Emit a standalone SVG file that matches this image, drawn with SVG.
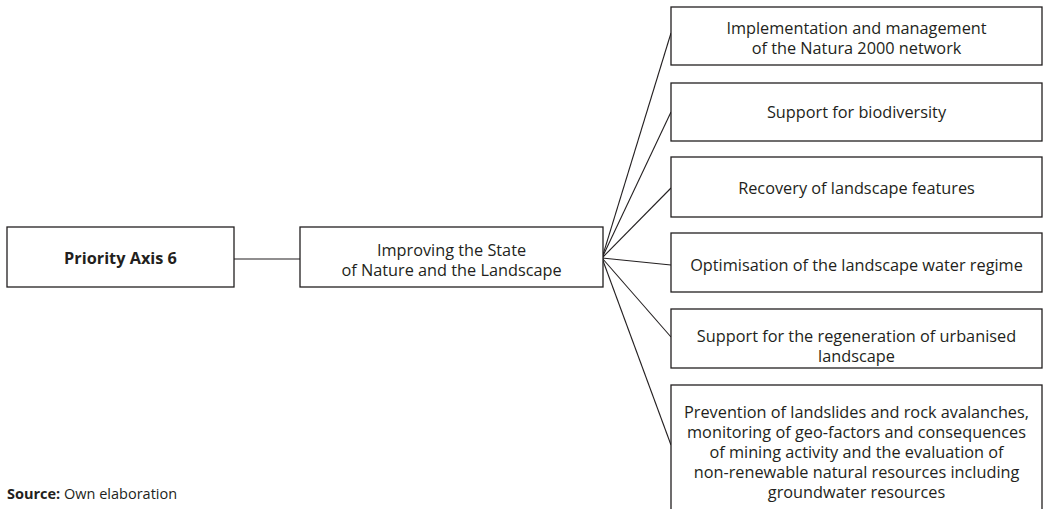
<svg xmlns="http://www.w3.org/2000/svg" width="1045" height="509" viewBox="0 0 1045 509">
<style>
.box{fill:#fff;stroke:#231f20;stroke-width:1.3}
.t{font-family:"Open Sans","Liberation Sans",sans-serif;font-size:16.3px;fill:#231f20;text-anchor:middle}
.b{font-weight:bold}
.c{stroke:#231f20;stroke-width:1.1;fill:none}
</style>
<rect width="1045" height="509" fill="#fff"/>
<g id="connectors">
<line class="c" x1="234" y1="259" x2="300" y2="259"/>
<line class="c" x1="602" y1="258" x2="671" y2="33"/>
<line class="c" x1="602" y1="258" x2="671" y2="112"/>
<line class="c" x1="602" y1="258" x2="671" y2="188"/>
<line class="c" x1="602" y1="258" x2="671" y2="265"/>
<line class="c" x1="602" y1="258" x2="671" y2="337"/>
<line class="c" x1="602" y1="258" x2="671" y2="445"/>
</g>
<g id="axis">
<rect class="box" x="7" y="227" width="227" height="60"/>
<text class="t b" x="120.5" y="264">Priority Axis 6</text>
</g>
<g id="improving">
<rect class="box" x="300" y="227" width="303" height="60"/>
<text class="t" x="451.5" y="256">Improving the State</text>
<text class="t" x="451.5" y="276">of Nature and the Landscape</text>
</g>
<g id="natura">
<rect class="box" x="671" y="7" width="371" height="58"/>
<text class="t" x="856.5" y="34">Implementation and management</text>
<text class="t" x="856.5" y="54">of the Natura 2000 network</text>
</g>
<g id="biodiversity">
<rect class="box" x="671" y="83" width="371" height="58"/>
<text class="t" x="856.5" y="118">Support for biodiversity</text>
</g>
<g id="recovery">
<rect class="box" x="671" y="157" width="371" height="60"/>
<text class="t" x="856.5" y="194">Recovery of landscape features</text>
</g>
<g id="water">
<rect class="box" x="671" y="233" width="371" height="59"/>
<text class="t" x="856.5" y="271">Optimisation of the landscape water regime</text>
</g>
<g id="urban">
<rect class="box" x="671" y="309" width="371" height="59"/>
<text class="t" x="856.5" y="342">Support for the regeneration of urbanised</text>
<text class="t" x="856.5" y="362">landscape</text>
</g>
<g id="prevention">
<rect class="box" x="671" y="385" width="371" height="130"/>
<text class="t" x="856.5" y="418">Prevention of landslides and rock avalanches,</text>
<text class="t" x="856.5" y="438">monitoring of geo-factors and consequences</text>
<text class="t" x="856.5" y="458">of mining activity and the evaluation of</text>
<text class="t" x="856.5" y="478">non-renewable natural resources including</text>
<text class="t" x="856.5" y="498">groundwater resources</text>
</g>
<text x="7" y="499" style="font-family:'Open Sans','Liberation Sans',sans-serif;font-size:14.5px;fill:#231f20"><tspan font-weight="bold">Source:</tspan> Own elaboration</text>
</svg>
